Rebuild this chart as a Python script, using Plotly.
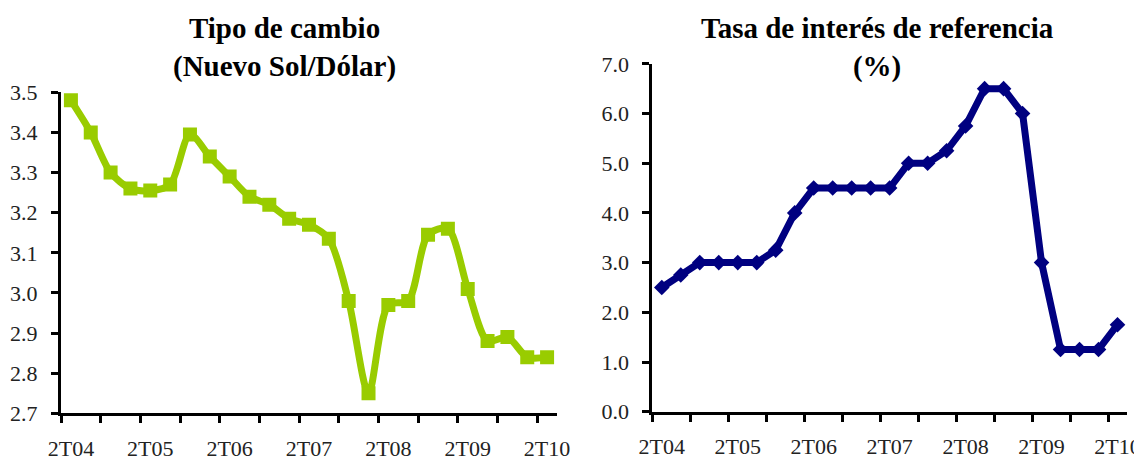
import plotly.graph_objects as go

# trimestres 2T04 - 2T10
trimestres = ["2T04", "3T04", "4T04", "1T05", "2T05", "3T05", "4T05", "1T06",
              "2T06", "3T06", "4T06", "1T07", "2T07", "3T07", "4T07", "1T08",
              "2T08", "3T08", "4T08", "1T09", "2T09", "3T09", "4T09", "1T10", "2T10"]
tipo_cambio = [3.48, 3.40, 3.30, 3.26, 3.255, 3.27, 3.395, 3.34, 3.29, 3.24, 3.22, 3.185,
               3.17, 3.135, 2.98, 2.75, 2.97, 2.98, 3.145, 3.16, 3.01, 2.88, 2.89, 2.84, 2.84]
tasa_ref = [2.5, 2.75, 3.0, 3.0, 3.0, 3.0, 3.25, 4.0, 4.5, 4.5, 4.5, 4.5, 4.5, 5.0, 5.0,
            5.25, 5.75, 6.5, 6.5, 6.0, 3.0, 1.25, 1.25, 1.25, 1.75]
etiquetas_x = ["2T04", "2T05", "2T06", "2T07", "2T08", "2T09", "2T10"]
ticks_tc = [2.7, 2.8, 2.9, 3.0, 3.1, 3.2, 3.3, 3.4, 3.5]
ticks_tasa = [0, 1, 2, 3, 4, 5, 6, 7]

# la pagina tiene 8px de margen en el body: la figura ocupa el resto de la ventana
OFF = 8
W, H = 1142 - OFF, 457 - OFF
idx = list(range(len(trimestres)))
pos_etiq = [trimestres.index(t) for t in etiquetas_x]
bordes = [i - 0.5 for i in range(0, len(trimestres), 2)]
fuente = "Liberation Serif, Times New Roman, serif"
tick_font = dict(family=fuente, size=22, color="#222")


def px_x(a, b):
    return [(a - OFF) / W, (b - OFF) / W]


def px_y(bottom, top):
    return [(H - (bottom - OFF)) / H, (H - (top - OFF)) / H]


fig = go.Figure()
fig.add_trace(go.Scatter(
    x=idx, y=tipo_cambio, mode="lines+markers", xaxis="x", yaxis="y",
    line=dict(color="#99CC00", width=7, shape="spline", smoothing=0.8),
    marker=dict(symbol="square", size=14, color="#99CC00"),
    showlegend=False, hoverinfo="y"))
fig.add_trace(go.Scatter(
    x=idx, y=tasa_ref, mode="lines+markers", xaxis="x2", yaxis="y2",
    line=dict(color="#000080", width=7),
    marker=dict(symbol="diamond", size=12, color="#000080"),
    showlegend=False, hoverinfo="y"))

rango_x = [-0.5, len(trimestres) - 0.5]


def eje_x(dom, anchor):
    return dict(domain=dom, anchor=anchor, range=rango_x, showline=True, automargin=False,
                linecolor="black", linewidth=3, showgrid=False, zeroline=False,
                tickmode="array", tickvals=pos_etiq, ticktext=etiquetas_x,
                ticks="", ticklabelstandoff=13, tickfont=tick_font,
                minor=dict(tickmode="array", tickvals=bordes, ticks="outside",
                           ticklen=7, tickwidth=2.5, tickcolor="black"))


def eje_y(dom, anchor, rango, vals):
    return dict(domain=dom, anchor=anchor, range=rango, showline=True, automargin=False,
                linecolor="black", linewidth=3, showgrid=False, zeroline=False,
                tickmode="array", tickvals=vals, tickformat=".1f",
                ticks="outside", ticklen=7, tickwidth=2.5, tickcolor="black",
                ticklabelstandoff=9, tickfont=tick_font)


def sobre_x(base, anchor):
    return dict(overlaying=base, anchor=anchor, range=rango_x, showline=False,
                showgrid=False, zeroline=False, showticklabels=False, automargin=False,
                tickmode="array", tickvals=bordes, ticks="inside",
                ticklen=7, tickwidth=2.5, tickcolor="black")


def sobre_y(base, anchor, rango, vals):
    return dict(overlaying=base, anchor=anchor, range=rango, showline=False,
                showgrid=False, zeroline=False, showticklabels=False, automargin=False,
                tickmode="array", tickvals=vals, ticks="inside",
                ticklen=7, tickwidth=2.5, tickcolor="black")


fig.update_layout(
    width=W, height=H, margin=dict(l=0, r=0, t=0, b=0, autoexpand=False),
    paper_bgcolor="white", plot_bgcolor="white",
    xaxis=eje_x(px_x(61, 557), "y"),
    yaxis=eje_y(px_y(413.3, 92.3), "x", [2.7, 3.5], ticks_tc),
    xaxis2=eje_x(px_x(652.3, 1127), "y2"),
    yaxis2=eje_y(px_y(411.7, 63.8), "x2", [0, 7], ticks_tasa),
    xaxis3=sobre_x("x", "y"),
    yaxis3=sobre_y("y", "x", [2.7, 3.5], ticks_tc),
    xaxis4=sobre_x("x2", "y2"),
    yaxis4=sobre_y("y2", "x2", [0, 7], ticks_tasa),
    annotations=[
        dict(text="<b>Tipo de cambio<br>(Nuevo Sol/Dólar)</b>", x=(284 - OFF) / W, y=1 - 2 / H,
             xref="paper", yref="paper", xanchor="center", yanchor="top",
             showarrow=False, font=dict(family=fuente, size=29, color="black")),
        dict(text="<b>Tasa de interés de referencia<br>(%)</b>", x=(877.5 - OFF) / W, y=1 - 2 / H,
             xref="paper", yref="paper", xanchor="center", yanchor="top",
             showarrow=False, font=dict(family=fuente, size=29, color="black")),
    ],
)

fig.write_html("out.html")
